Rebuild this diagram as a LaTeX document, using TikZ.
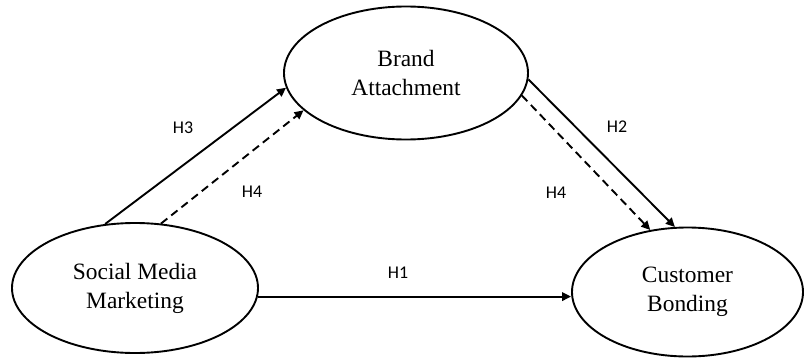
\documentclass[tikz,border=0pt]{standalone}
\usepackage{fontspec}
\setmainfont{Liberation Serif}
\newfontfamily\hfont{Carlito}
\usepackage{tikz}
\usetikzlibrary{arrows.meta}
\usetikzlibrary{shapes.geometric}

\begin{document}
\begin{tikzpicture}[x=1bp, y=1bp, line width=1.9bp]

  % Define styles
  \tikzset{construct/.style={draw, ellipse, inner sep=0pt, align=center,
      font=\fontsize{23.5}{29}\selectfont}}
  \tikzset{hyp/.style={font=\hfont\fontsize{18}{20}\selectfont}}
  \tikzset{effect/.style={-{Triangle[length=9bp, width=8.5bp]}}}
  \tikzset{mediated/.style={effect, dash pattern=on 8bp off 5bp}}

  \useasboundingbox (0,0) rectangle (805,358);

  % Nodes
  \node[construct, minimum width=246bp, minimum height=130bp] (smm) at (135,70) {Social Media\\Marketing};
  \node[construct, minimum width=244bp, minimum height=133bp] (ba) at (406,285) {Brand\\Attachment};
  \node[construct, minimum width=231bp, minimum height=129bp] (cb) at (687.5,66) {Customer\\Bonding};

  % Paths
  \draw[effect] (smm.115) -- (ba.187);
  \draw[mediated] (smm.68) -- (ba.200);
  \draw[effect] (ba.-3) -- (cb.101);
  \draw[mediated] (ba.-11) -- (cb.121);
  \draw[effect] (smm.-4) -- (cb.west |- smm.-4);

  % Labels
  \node[hyp] (h3) at (183,230) {H3};
  \node[hyp] (h4a) at (252,166) {H4};
  \node[hyp] (h2) at (617,231) {H2};
  \node[hyp] (h4b) at (556,165) {H4};
  \node[hyp] (h1) at (398,85) {H1};

\end{tikzpicture}
\end{document}
